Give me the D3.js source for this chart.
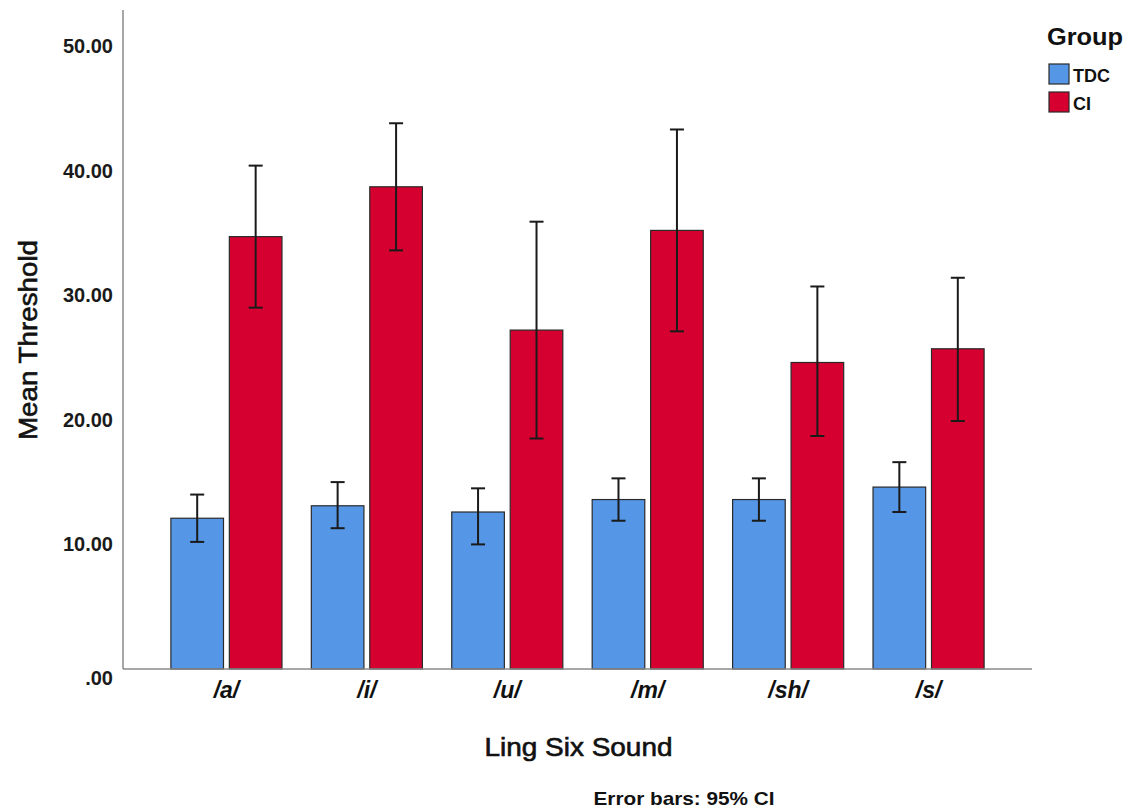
<!DOCTYPE html>
<html>
<head>
<meta charset="utf-8">
<script src="https://cdn.jsdelivr.net/npm/d3@7"></script>
<style>
  body { margin: 0; background: #fff; }
  svg { font-family: "Liberation Sans", Arial, sans-serif; }
</style>
</head>
<body>
<div id="chart"></div>
<script>
// data
let sounds = ["/a/", "/i/", "/u/", "/m/", "/sh/", "/s/"];
let groups = ["TDC", "CI"];
let tdcMean = [12.1, 13.1, 12.6, 13.6, 13.6, 14.6];
let tdcLow  = [10.2, 11.3, 10.0, 11.9, 11.9, 12.6];
let tdcHigh = [14.0, 15.0, 14.5, 15.3, 15.3, 16.6];
let ciMean  = [34.7, 38.7, 27.2, 35.2, 24.6, 25.7];
let ciLow   = [29.0, 33.6, 18.5, 27.1, 18.7, 19.9];
let ciHigh  = [40.4, 43.8, 35.9, 43.3, 30.7, 31.4];
let yTicks  = [0, 10, 20, 30, 40, 50];

let colors = { TDC: "#5596e6", CI: "#d5002f" };

let width = 1131, height = 810;
let mLeft = 123, mRight = 1032, mTop = 10, mBottom = 669;

let svg = d3.select("#chart").append("svg")
    .attr("width", width)
    .attr("height", height);

let rows = [];
sounds.forEach(function(s, i) {
    rows.push({ sound: s, group: "TDC", mean: tdcMean[i], lo: tdcLow[i], hi: tdcHigh[i] });
    rows.push({ sound: s, group: "CI", mean: ciMean[i], lo: ciLow[i], hi: ciHigh[i] });
});

let x0 = d3.scaleBand().domain(sounds).range([mLeft, mRight])
    .paddingInner(0.209).paddingOuter(0.341);
let x1 = d3.scaleBand().domain(groups).range([0, x0.bandwidth()]).paddingInner(0.1);
let y = d3.scaleLinear().domain([0, 50]).range([mBottom, 46]);

// y tick labels (no tick marks in original)
let yAxis = svg.append("g")
    .attr("transform", "translate(" + mLeft + ",0)")
    .call(d3.axisLeft(y).tickValues(yTicks).tickSize(0).tickPadding(10)
        .tickFormat(function(d) { return d === 0 ? ".00" : d3.format(".2f")(d); }));
yAxis.select(".domain").remove();
yAxis.selectAll("text")
    .style("font-size", "20px")
    .style("font-weight", "bold")
    .attr("fill", "#1a1a1a");
yAxis.selectAll(".tick").filter(function(d) { return d === 0; })
    .select("text").attr("dy", "0.75em");

// bars
let bars = svg.append("g");
bars.selectAll("rect")
    .data(rows)
    .enter().append("rect")
    .attr("x", function(d) { return x0(d.sound) + x1(d.group); })
    .attr("y", function(d) { return y(d.mean); })
    .attr("width", x1.bandwidth())
    .attr("height", function(d) { return y(0) - y(d.mean); })
    .attr("fill", function(d) { return colors[d.group]; })
    .attr("stroke", "#2a2a2a")
    .attr("stroke-width", 1.2);

// error bars
let cap = 7;
let err = svg.append("g").attr("stroke", "#1a1a1a").attr("stroke-width", 2);
rows.forEach(function(d) {
    let cx = x0(d.sound) + x1(d.group) + x1.bandwidth() / 2;
    err.append("line").attr("x1", cx).attr("x2", cx).attr("y1", y(d.lo)).attr("y2", y(d.hi));
    err.append("line").attr("x1", cx - cap).attr("x2", cx + cap).attr("y1", y(d.lo)).attr("y2", y(d.lo));
    err.append("line").attr("x1", cx - cap).attr("x2", cx + cap).attr("y1", y(d.hi)).attr("y2", y(d.hi));
});

// axis lines
svg.append("line").attr("x1", mLeft).attr("x2", mLeft).attr("y1", mTop).attr("y2", mBottom)
    .attr("stroke", "#8a8a8a").attr("stroke-width", 1.5);
svg.append("line").attr("x1", mLeft).attr("x2", mRight).attr("y1", mBottom).attr("y2", mBottom)
    .attr("stroke", "#8a8a8a").attr("stroke-width", 1.5);

// x category labels
let xAxis = svg.append("g")
    .attr("transform", "translate(0," + mBottom + ")")
    .call(d3.axisBottom(x0).tickSize(0).tickPadding(13));
xAxis.select(".domain").remove();
xAxis.selectAll("text")
    .style("font-size", "23px")
    .style("font-weight", "bold")
    .style("font-style", "italic")
    .attr("fill", "#111");

// axis titles (slightly heavier than regular, like the original)
svg.append("text")
    .attr("x", (mLeft + mRight) / 2 + 1).attr("y", 756)
    .attr("text-anchor", "middle")
    .attr("textLength", 188).attr("lengthAdjust", "spacingAndGlyphs")
    .style("font-size", "25px")
    .attr("fill", "#111").attr("stroke", "#111").attr("stroke-width", 0.6)
    .text("Ling Six Sound");

svg.append("text")
    .attr("transform", "translate(37,340) rotate(-90)")
    .attr("text-anchor", "middle")
    .attr("textLength", 200).attr("lengthAdjust", "spacingAndGlyphs")
    .style("font-size", "25px")
    .attr("fill", "#111").attr("stroke", "#111").attr("stroke-width", 0.6)
    .text("Mean Threshold");

// legend
let legend = svg.append("g").attr("transform", "translate(1047,0)");
legend.append("text").attr("x", 0).attr("y", 45)
    .attr("textLength", 76).attr("lengthAdjust", "spacingAndGlyphs")
    .style("font-size", "23px").style("font-weight", "bold").attr("fill", "#111")
    .text("Group");
groups.forEach(function(g, i) {
    legend.append("rect")
        .attr("x", 2).attr("y", 64 + i * 28)
        .attr("width", 20).attr("height", 20)
        .attr("fill", colors[g])
        .attr("stroke", "#2a2a2a").attr("stroke-width", 1.2);
    legend.append("text")
        .attr("x", 26).attr("y", 82 + i * 28)
        .style("font-size", "18px").style("font-weight", "bold").attr("fill", "#111")
        .text(g);
});

// footnote
svg.append("text")
    .attr("x", 684).attr("y", 805)
    .attr("text-anchor", "middle")
    .attr("textLength", 181).attr("lengthAdjust", "spacingAndGlyphs")
    .style("font-size", "19px").style("font-weight", "bold").attr("fill", "#111")
    .text("Error bars: 95% CI");
</script>
</body>
</html>
